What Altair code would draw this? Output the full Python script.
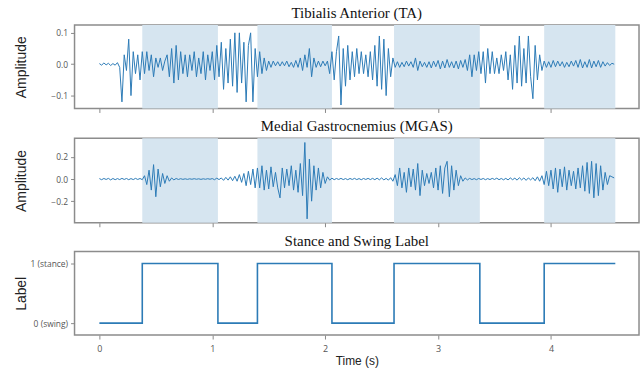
import altair as alt
import pandas as pd

# time axis (s), sampled every 0.02 s from 0 to 4.56
n_samples = 229
dt = 0.02

ta_values = [
    0.002, -0.003, 0.004, -0.002, 0.003, -0.004, 0.002, -0.003, 0.005, -0.01,
    -0.12, 0.03, -0.02, 0.08, -0.10, 0.04, -0.03, 0.03, -0.05, 0.04,
    -0.03, 0.04, -0.02, 0.03, -0.04, 0.02, -0.01, 0.02, -0.02, 0.01,
    0.03, -0.04, 0.05, -0.06, 0.06, -0.05, 0.04, -0.03, 0.03, -0.04,
    0.03, -0.02, 0.04, -0.04, 0.02, -0.03, 0.04, -0.05, 0.03, -0.02,
    0.04, -0.05, 0.06, -0.04, 0.07, -0.08, 0.05, -0.06, 0.08, -0.07,
    0.10, -0.09, 0.10, -0.06, 0.07, -0.12, 0.06, 0.10, -0.12, 0.05,
    -0.04, 0.04, -0.03, 0.02, -0.02, 0.01, -0.01, 0.01, -0.005, 0.008,
    -0.006, 0.008, -0.005, 0.01, -0.008, 0.006, -0.01, 0.012, -0.01, 0.02,
    -0.02, 0.03, -0.01, 0.05, -0.04, 0.02, -0.01, 0.01, -0.008, 0.01,
    -0.005, 0.01, -0.03, 0.04, -0.05, 0.04, 0.09, -0.13, 0.05, -0.07,
    0.06, -0.05, 0.04, -0.04, 0.05, -0.03, 0.04, -0.03, 0.03, -0.04,
    0.04, -0.05, 0.06, -0.07, 0.09, -0.08, 0.08, -0.10, 0.05, -0.04,
    0.02, -0.01, 0.008, -0.01, 0.006, -0.008, 0.01, -0.006, 0.008, -0.01,
    0.02, -0.02, 0.01, -0.008, 0.006, -0.01, 0.008, -0.012, 0.01, -0.008,
    0.012, -0.015, 0.01, -0.012, 0.015, -0.01, 0.008, -0.012, 0.01, -0.015,
    0.012, -0.01, 0.015, -0.02, 0.03, -0.04, 0.03, -0.02, 0.04, -0.03,
    0.04, -0.06, 0.05, -0.03, 0.04, -0.03, 0.02, -0.03, 0.03, -0.02,
    0.04, -0.05, 0.03, -0.08, 0.06, -0.06, 0.09, -0.07, 0.05, -0.06,
    0.09, -0.04, -0.11, 0.06, -0.05, 0.03, -0.02, 0.01, -0.01, 0.008,
    -0.01, 0.012, -0.008, 0.01, -0.006, 0.008, -0.01, 0.006, -0.008, 0.01,
    -0.006, 0.012, -0.01, 0.015, -0.012, 0.008, -0.01, 0.015, -0.012, 0.01,
    -0.008, 0.012, -0.01, 0.008, -0.006, 0.005, -0.004, 0.003, 0.0,
]

mgas_values = [
    0.004, -0.006, 0.005, -0.004, 0.006, -0.008, 0.005, -0.006, 0.004, -0.005,
    0.006, -0.004, 0.005, -0.006, 0.004, -0.005, 0.006, -0.004, 0.005, -0.006,
    0.03, -0.05, 0.08, -0.10, 0.13, -0.16, 0.09, -0.07, 0.05, -0.04,
    0.03, -0.02, 0.01, -0.008, 0.005, -0.004, 0.003, -0.003, 0.002, -0.003,
    0.002, -0.002, 0.003, -0.002, 0.002, -0.003, 0.002, -0.002, 0.003, -0.002,
    0.004, -0.006, 0.008, -0.005, 0.01, -0.012, 0.015, -0.01, 0.02, -0.015,
    0.025, -0.02, 0.04, -0.03, 0.05, -0.06, 0.07, -0.05, 0.09, -0.08,
    0.10, -0.08, 0.12, -0.10, 0.08, -0.09, 0.11, -0.07, 0.06, -0.08,
    -0.17, 0.10, -0.08, 0.09, -0.06, 0.12, -0.10, 0.08, -0.12, 0.14,
    -0.15, 0.33, -0.36, 0.18, -0.20, 0.12, -0.10, 0.10, -0.08, 0.06,
    -0.04, 0.02, -0.01, 0.008, -0.006, 0.005, -0.004, 0.006, -0.005, 0.004,
    -0.006, 0.005, -0.004, 0.006, -0.005, 0.004, -0.006, 0.005, -0.004, 0.006,
    -0.005, 0.006, -0.006, 0.008, -0.007, 0.01, -0.008, 0.006, -0.01, 0.012,
    -0.02, 0.04, -0.06, 0.10, -0.08, 0.06, -0.12, 0.10, -0.07, 0.09,
    -0.10, 0.14, -0.15, 0.08, -0.06, 0.05, -0.04, 0.06, -0.08, 0.10,
    -0.10, 0.12, -0.13, 0.10, 0.16, -0.16, 0.12, -0.10, 0.08, -0.06,
    0.03, -0.02, 0.01, -0.008, 0.006, -0.005, 0.004, -0.006, 0.005, -0.004,
    0.005, -0.006, 0.004, -0.005, 0.006, -0.004, 0.008, -0.006, 0.005, -0.007,
    0.006, -0.008, 0.01, -0.006, 0.008, -0.01, 0.012, -0.008, 0.01, -0.012,
    0.01, -0.008, 0.012, -0.015, 0.02, -0.02, 0.03, -0.05, 0.07, -0.06,
    0.08, -0.09, 0.10, -0.12, 0.09, -0.07, 0.11, -0.10, 0.08, -0.06,
    0.07, -0.09, 0.10, -0.08, 0.12, -0.11, 0.15, -0.13, 0.16, -0.17,
    0.14, -0.15, 0.12, -0.10, 0.06, -0.05, 0.03, 0.02, 0.01,
]

stance_start = [0.38, 1.40, 2.61, 3.94]
stance_end = [1.05, 2.06, 3.37, 4.57]

label_times = [0.0, 0.38, 1.05, 1.40, 2.06, 2.61, 3.37, 3.94, 4.57]
label_values = [0, 1, 0, 1, 0, 1, 0, 1, 1]

x_ticks = [0, 1, 2, 3, 4]

times = [round(i * dt, 2) for i in range(n_samples)]
emg = pd.DataFrame({"t": times, "ta": ta_values, "mgas": mgas_values})
bands = pd.DataFrame({"start": stance_start, "end": stance_end})
labels = pd.DataFrame({"t": label_times, "label": label_values})

LINE = "#2c7bb6"
BAND = "#d6e5f0"
W = 568
X_DOMAIN = [-0.22, 4.78]

def x_enc(show_labels, title=None):
    axis = alt.Axis(values=x_ticks, labels=show_labels, title=title,
                    labelFontSize=9, labelColor="#555", labelFont="Open Sans",
                    labelPadding=6, titleFont="Liberation Sans", titleFontSize=12,
                    titleFontWeight="normal", titleColor="#222", titlePadding=2)
    return alt.X("t:Q", scale=alt.Scale(domain=X_DOMAIN, nice=False, zero=False), axis=axis)

def title(text, offset=4):
    return alt.TitleParams(text, font="Liberation Serif", fontSize=15, fontWeight="normal",
                           color="#111", offset=offset, anchor="middle")

def y_axis(ytitle, values, label_expr=None):
    kw = dict(values=values, title=ytitle, titleFont="Liberation Sans", titleFontSize=14,
              titleFontWeight="normal", titleColor="#222", titleX=-46,
              labelFontSize=8.5, labelColor="#555", labelFont="Open Sans", labelPadding=3)
    if label_expr:
        kw["labelExpr"] = label_expr
    return alt.Axis(**kw)

def band_layer():
    return alt.Chart(bands).mark_rect(color=BAND).encode(
        x=alt.X("start:Q", scale=alt.Scale(domain=X_DOMAIN, nice=False, zero=False)),
        x2="end:Q",
    )

def emg_panel(col, ttl, domain, ticks, height, offset=4):
    line = alt.Chart(emg).mark_line(color=LINE, strokeWidth=1).encode(
        x=x_enc(False),
        y=alt.Y(f"{col}:Q", scale=alt.Scale(domain=domain, nice=False, zero=False),
                axis=y_axis("Amplitude", ticks, "format(datum.value, '.1f')")),
    )
    return alt.layer(band_layer(), line).properties(
        width=W, height=height, title=title(ttl, offset))

p1 = emg_panel("ta", "Tibialis Anterior (TA)", [-0.141, 0.125], [-0.1, 0.0, 0.1], 84)
p2 = emg_panel("mgas", "Medial Gastrocnemius (MGAS)", [-0.395, 0.368], [-0.2, 0.0, 0.2], 85)

p3 = alt.Chart(labels).mark_line(color=LINE, strokeWidth=1.6, interpolate="step-after").encode(
    x=x_enc(True, "Time (s)"),
    y=alt.Y("label:Q", scale=alt.Scale(domain=[-0.2, 1.2], nice=False, zero=False),
            axis=y_axis("Label", [0, 1],
                        "datum.value == 1 ? '1 (stance)' : '0 (swing)'")),
).properties(width=W, height=84, title=title("Stance and Swing Label", 3))

chart = alt.vconcat(p1, p2, p3, spacing=4).properties(
    padding={"left": 14, "top": 4, "right": 2, "bottom": 0}
).configure_view(
    stroke="#8c8c8c", strokeWidth=1.5
).configure_axis(
    grid=False, domain=False, tickColor="#888", tickSize=4, tickWidth=1
)

chart.save("out.html", embed_options={"renderer": "svg", "actions": False})
